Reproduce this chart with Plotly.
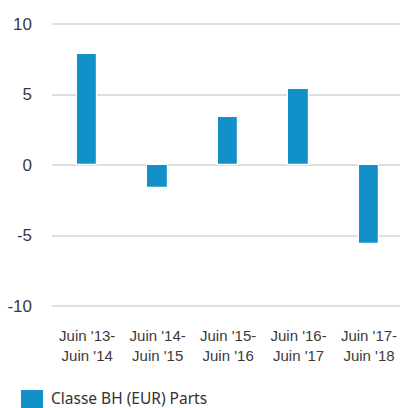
import plotly.graph_objects as go

categories = ["Juin '13-<br>Juin '14", "Juin '14-<br>Juin '15", "Juin '15-<br>Juin '16",
              "Juin '16-<br>Juin '17", "Juin '17-<br>Juin '18"]
values = [7.85, -1.6, 3.4, 5.4, -5.6]
series_name = "Classe BH (EUR) Parts"
y_ticks = [-10, -5, 0, 5, 10]
y_ticklabels = ["-10", "-5", "0", "5", "10"]

BAR = "#1190c9"
W, H = 400, 408
ML, MR, MT, MB = 52, 0, 20, 100

fig = go.Figure()
fig.add_trace(go.Bar(
    x=list(range(len(categories))), y=values, name=series_name,
    marker=dict(color=BAR, line=dict(color="white", width=1.2)),
    width=0.29, showlegend=False,
))

tick_font = dict(family="Liberation Sans, Arial, sans-serif", size=15, color="#3a3a3a")
fig.update_layout(
    width=W, height=H,
    margin=dict(l=ML, r=MR, t=MT, b=MB, pad=0),
    paper_bgcolor="white", plot_bgcolor="white",
    bargap=0,
    xaxis=dict(
        range=[-0.5, 4.44], tickmode="array", tickvals=list(range(len(categories))),
        ticktext=categories, showgrid=False, zeroline=False, showline=False,
        tickfont=tick_font, ticks="", ticklabelstandoff=17, tickangle=0,
        automargin=False, ticklabeloverflow="allow",
    ),
    yaxis=dict(
        range=[-10.143, 10.286], tickmode="array", tickvals=y_ticks, ticktext=y_ticklabels,
        showgrid=True, gridcolor="#dedede", gridwidth=1.5,
        zeroline=True, zerolinecolor="#dedede", zerolinewidth=1.5,
        showline=False, ticks="", tickfont=dict(tick_font, size=17), ticklabelstandoff=19,
        automargin=False,
    ),
)

# legend drawn manually (square + label) to match the larger swatch
ph = H - MT - MB
def py(pix):
    return (H - MB - pix) / ph
pw = W - ML - MR
def px(pix):
    return (pix - ML) / pw

fig.add_shape(type="rect", xref="paper", yref="paper",
              x0=px(21), x1=px(43), y0=py(412), y1=py(390),
              fillcolor=BAR, line=dict(width=0), layer="above")
fig.add_annotation(xref="paper", yref="paper", x=px(49), y=py(398),
                   text=series_name, showarrow=False, xanchor="left", yanchor="middle",
                   font=dict(family="Noto Sans, sans-serif", size=15.5, color="#333333"))

fig.write_html("out.html",
               config={"displayModeBar": False},
               post_script="document.body.style.margin='0';document.body.style.overflow='hidden';")
